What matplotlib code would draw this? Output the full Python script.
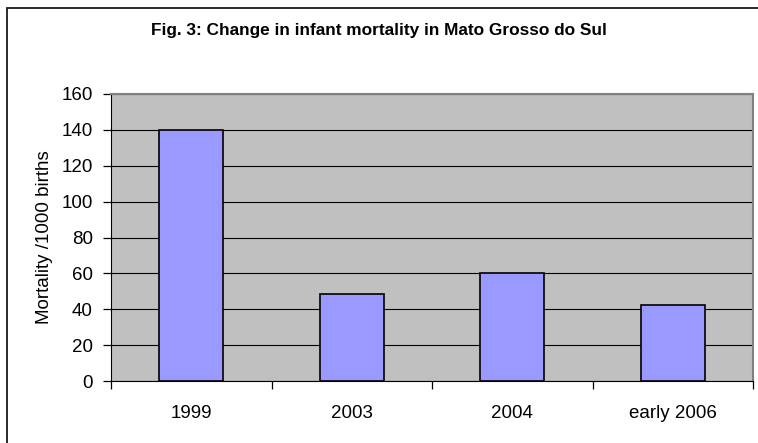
import matplotlib.pyplot as plt
import numpy as np
from matplotlib.patches import Rectangle

categories = ["1999", "2003", "2004", "early 2006"]
mortality = [140, 48.5, 60, 42.5]
y_ticks = [0, 20, 40, 60, 80, 100, 120, 140, 160]

plt.rcParams["font.family"] = ["Liberation Sans", "DejaVu Sans"]

fig = plt.figure(figsize=(7.58, 4.43), dpi=100)
ax = fig.add_axes([111 / 758, 1 - 381 / 443, (753 - 111) / 758, (381 - 94) / 443])

# outer frame of the chart (runs off right/bottom edge, as in the original)
fig.patches.append(Rectangle((7 / 758, -0.1), 1.2, 1 - 8 / 443 + 0.1,
                             transform=fig.transFigure, fill=False,
                             edgecolor="#1a1a1a", linewidth=1.3))

x = np.arange(len(categories))
ax.set_facecolor("#c0c0c0")
ax.bar(x, mortality, width=0.4, color="#9999ff", edgecolor="black",
       linewidth=1.2, zorder=3)

ax.set_xlim(-0.5, len(categories) - 0.5)
ax.set_ylim(0, 160)
ax.set_yticks(y_ticks)
ax.yaxis.grid(True, color="black", linewidth=0.8, zorder=1)
ax.set_axisbelow(True)

ax.set_xticks(x)
ax.set_xticklabels(categories)
ax.set_xticks(np.arange(len(categories) + 1) - 0.5, minor=True)
ax.tick_params(axis="x", which="major", length=0, pad=17, labelsize=13.5)
ax.tick_params(axis="x", which="minor", length=6, width=0.9, direction="out")
ax.tick_params(axis="y", length=6, width=0.9, pad=7, labelsize=13.5)

for side in ["top", "right"]:
    ax.spines[side].set_color("#808080")
    ax.spines[side].set_linewidth(1.5)
ax.spines["left"].set_color("black")
ax.spines["bottom"].set_color("black")

ax.set_ylabel("Mortality /1000 births", fontsize=13.5, labelpad=6)

fig.text(0.5, 1 - 30 / 443, "Fig. 3: Change in infant mortality in Mato Grosso do Sul",
         ha="center", va="center", fontsize=12.4, fontweight="bold")

fig.savefig("out.png", dpi=100)
